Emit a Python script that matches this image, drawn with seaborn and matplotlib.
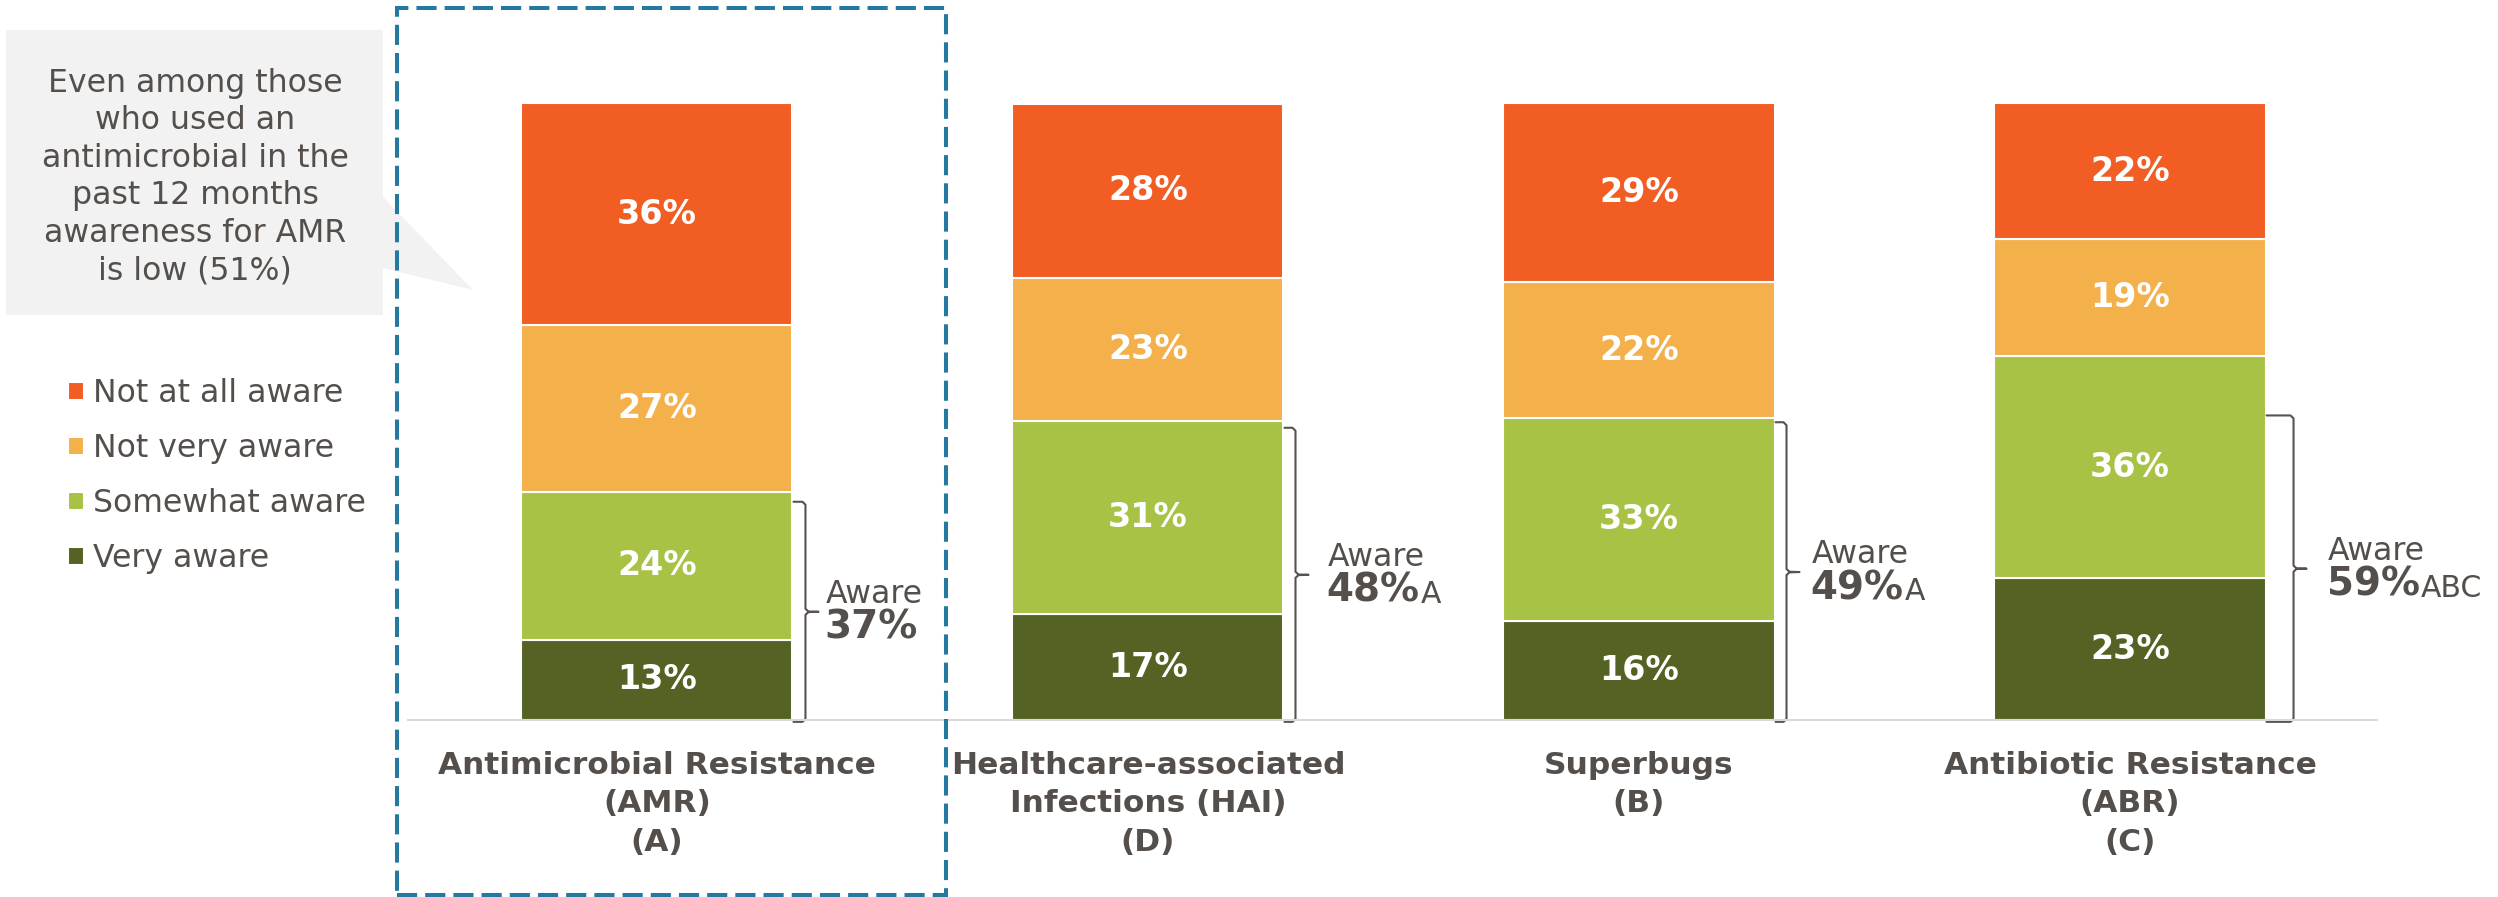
import numpy as np
import matplotlib
matplotlib.use("Agg")
import matplotlib.pyplot as plt
import seaborn as sns
from matplotlib.patches import Polygon, Rectangle

# data
topics = [
    "Antimicrobial Resistance\n(AMR)\n(A)",
    "Healthcare-associated\nInfections (HAI)\n(D)",
    "Superbugs\n(B)",
    "Antibiotic Resistance\n(ABR)\n(C)",
]
levels = ["Very aware", "Somewhat aware", "Not very aware", "Not at all aware"]
very_aware = [13, 17, 16, 23]
somewhat_aware = [24, 31, 33, 36]
not_very_aware = [27, 23, 22, 19]
not_at_all_aware = [36, 28, 29, 22]
aware_total = [37, 48, 49, 59]
aware_sig = ["", "A", "A", "ABC"]
callout_text = ("Even among those\nwho used an\nantimicrobial in the\n"
                "past 12 months\nawareness for AMR\nis low (51%)")

colors = ["#546223", "#A7C244", "#F4B04B", "#F15D22"]
TEXT = "#554F4C"

sns.set_theme(style="white")
plt.rcParams["font.family"] = ["DejaVu Sans"]

W, H = 2498, 897
fig = plt.figure(figsize=(W / 100, H / 100), dpi=100)
ax_l, ax_r, ax_b, ax_t = 408, 2377, 720, 103.5
ax = fig.add_axes([ax_l / W, 1 - ax_b / H, (ax_r - ax_l) / W, (ax_b - ax_t) / H])
ax.patch.set_alpha(0)

# stacked 100% bars
series = [very_aware, somewhat_aware, not_very_aware, not_at_all_aware]
totals = np.sum(series, axis=0)
bottom = np.zeros(len(topics))
for name, vals, c in zip(levels, series, colors):
    share = np.array(vals) / totals * 100
    sns.barplot(x=topics, y=share, bottom=bottom, color=c, saturation=1, width=0.552,
                edgecolor="white", linewidth=1.5, errorbar=None, label=name, ax=ax)
    ax.bar_label(ax.containers[-1], labels=[f"{v}%" for v in vals], label_type="center",
                 color="white", fontsize=24, fontweight="bold")
    bottom += share

if ax.get_legend() is not None:
    ax.get_legend().remove()

ax.set_xlim(-0.507, 3.503)
ax.set_ylim(0, 100)
sns.despine(ax=ax, left=True)
ax.spines["bottom"].set_color("#D9D9D9")
ax.spines["bottom"].set_linewidth(1.5)
ax.set_yticks([])
ax.set_ylabel("")
ax.tick_params(axis="x", length=0, pad=22, labelsize=22.5, labelcolor=TEXT)
for lbl in ax.get_xticklabels():
    lbl.set_fontweight("bold")
    lbl.set_linespacing(1.43)

# "Aware" braces
xu = (ax.get_xlim()[1] - ax.get_xlim()[0]) / (ax_r - ax_l)
yu = 100 / (ax_b - ax_t)
brace_top = [35.4, 47.4, 48.3, 49.4]
brace_dx = [13, 12, 12, 28]
text_dx = [33, 44, 37, 62]
for i in range(len(topics)):
    right = i + 0.276
    x0 = right + 1 * xu
    vx = right + brace_dx[i] * xu
    top, bot = brace_top[i], -0.3
    mid = (top + bot) / 2
    r = 3
    xs = [x0, vx - r * xu, vx, vx, vx + r * xu, vx + 13 * xu, vx + r * xu, vx, vx, vx - r * xu, x0]
    ys = [top, top, top - r * yu, mid + r * yu, mid + 0.3 * yu, mid, mid - 0.3 * yu,
          mid - r * yu, bot + r * yu, bot, bot]
    ax.plot(xs, ys, color="#58514F", lw=1.5, clip_on=False, solid_joinstyle="round")

    tx = right + text_dx[i] * xu
    ax.annotate("Aware", xy=(tx, mid), xytext=(0, 9), textcoords="offset pixels",
                ha="left", va="baseline", fontsize=22.7, color=TEXT, annotation_clip=False)
    num = ax.annotate(f"{aware_total[i]}%", xy=(tx, mid), xytext=(-1, -27),
                      textcoords="offset pixels", ha="left", va="baseline",
                      fontsize=28, fontweight="bold", color=TEXT, annotation_clip=False)
    if aware_sig[i]:
        ax.annotate(aware_sig[i], xy=(1, 0), xycoords=num, xytext=(1, 1),
                    textcoords="offset pixels", ha="left", va="bottom",
                    fontsize=21.5, color=TEXT)

# legend
handles, labels = ax.get_legend_handles_labels()
fig.legend(handles[::-1], labels[::-1], loc="upper left",
           bbox_to_anchor=(68 / W, 1 - 378 / H), frameon=False, fontsize=22.7,
           labelcolor=TEXT, handlelength=0.5, handleheight=0.5, handletextpad=0.3,
           labelspacing=0.76, borderpad=0, borderaxespad=0)

# callout bubble
def fp(x, y):
    return (x / W, 1 - y / H)

bubble = [fp(6, 30), fp(383, 30), fp(383, 197), fp(473, 290), fp(383, 268),
          fp(383, 315), fp(6, 315)]
fig.add_artist(Polygon(bubble, closed=True, transform=fig.transFigure,
                       facecolor="#F2F2F2", edgecolor="none", zorder=0))
fig.text(195 / W, 1 - 177 / H, callout_text, ha="center", va="center",
         fontsize=22.7, color=TEXT, linespacing=1.27)

# dashed highlight box around AMR
fig.add_artist(Rectangle(fp(397, 895), 549 / W, 887 / H, transform=fig.transFigure,
                         fill=False, edgecolor="#2479A0", lw=2.9, ls=(0, (5, 2))))

fig.savefig("out.png", dpi=100)
